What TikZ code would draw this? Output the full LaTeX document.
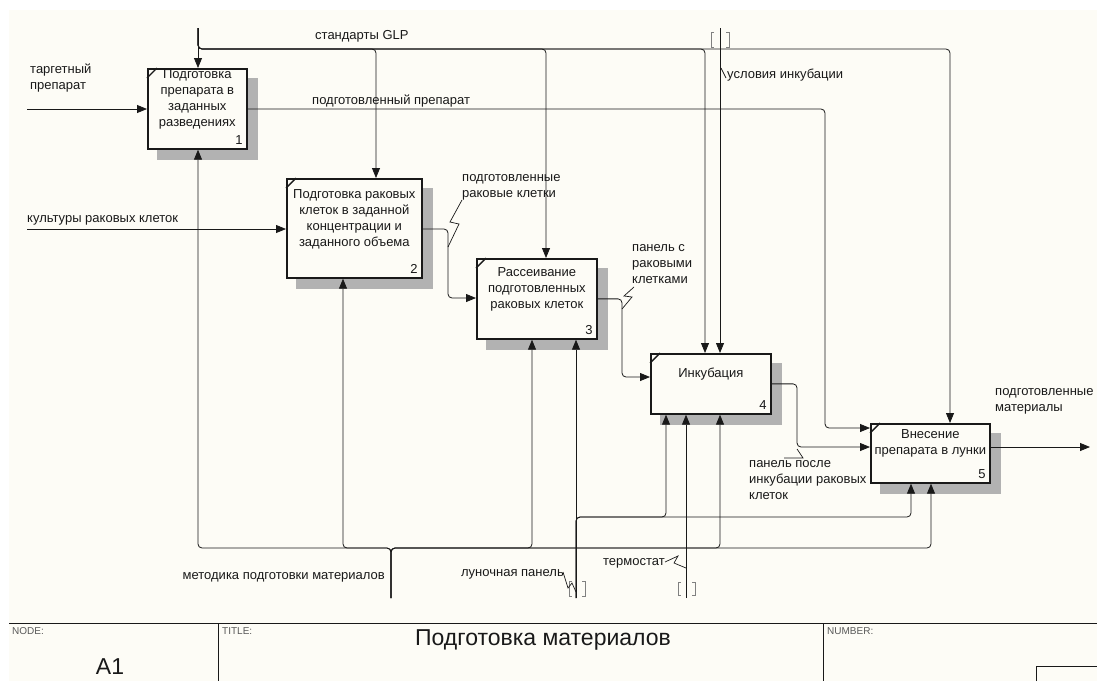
\documentclass[tikz,border=0pt]{standalone}
\usepackage{fontspec}
\setmainfont{Liberation Sans}
\usetikzlibrary{arrows.meta,positioning,backgrounds}

\definecolor{paper}{RGB}{253,252,246}
\definecolor{hatch}{RGB}{178,178,178}
\definecolor{ink}{RGB}{25,25,25}

\begin{document}
\begin{tikzpicture}[x=1pt,y=-1pt,>={Triangle[length=10pt,width=8pt]},
  every node/.style={inner sep=0pt,font=\fontsize{13}{16}\selectfont,text=ink},
  func/.style={rectangle,draw=ink,line width=1.7pt,fill=paper,anchor=north west},
  flow/.style={->,draw=ink,line width=0.8pt,rounded corners=4pt},
  lead/.style={draw=ink,line width=0.7pt},
  tunnel/.style={draw=gray,line width=0.9pt},
  lbl/.style={align=left,anchor=north west},
  frame/.style={draw=ink,line width=0.8pt},
  small/.style={font=\fontsize{10}{12}\selectfont,text=black!65,anchor=north west},
  big/.style={font=\fontsize{23}{26}\selectfont}]

  \useasboundingbox (0,0) rectangle (1097,681);

  \node[func,minimum width=99pt,minimum height=80pt] (1) at (147,68) {};
  \node[func,minimum width=135pt,minimum height=99pt] (2) at (286,178) {};
  \node[func,minimum width=120pt,minimum height=80pt] (3) at (476,258) {};
  \node[func,minimum width=120pt,minimum height=60pt] (4) at (650,353) {};
  \node[func,minimum width=119pt,minimum height=59pt] (5) at (870,423) {};

  \node[align=center] (1t) at ([yshift=9.5pt]1.center) {Подготовка\\препарата в\\заданных\\разведениях};
  \node[align=center] (2t) at ([yshift=9.5pt]2.center) {Подготовка раковых\\клеток в заданной\\концентрации и\\заданного объема};
  \node[align=center] (3t) at ([yshift=9.5pt]3.center) {Рассеивание\\подготовленных\\раковых клеток};
  \node[align=center] (4t) at ([yshift=9.5pt]4.center) {Инкубация};
  \node[align=center] (5t) at ([yshift=9.5pt]5.center) {Внесение\\препарата в лунки};

  \foreach \i in {1,...,5}{
    \node[above left=5pt and 5pt of \i.south east] (n\i) {\i};
    \draw[line width=1.4pt,ink] ([yshift=-10pt]\i.north west) -- ([xshift=10pt]\i.north west);
  }

  \begin{scope}[on background layer]
    \fill[white] (0,0) rectangle (1097,681);
    \fill[paper] (9,10) rectangle (1097,681);
    \foreach \i in {1,...,5}
      \fill[hatch] ([shift={(10pt,-10pt)}]\i.north west) rectangle ([shift={(10pt,-10pt)}]\i.south east);
  \end{scope}

  \coordinate (glp) at (198,28);
  \coordinate (g2) at (376,49);
  \coordinate (g3) at (546,49);
  \coordinate (g4) at (705,49);
  \coordinate (g5) at (950,49);
  \coordinate (usl) at (720,28);
  \coordinate (tgt) at (27,109);
  \coordinate (kul) at (27,229);
  \coordinate (p1) at (825,109);
  \coordinate (p5) at (825,428);
  \coordinate (k2) at (448,229);
  \coordinate (k3) at (448,298);
  \coordinate (c4) at (622,377);
  \coordinate (c5) at (797,447);
  \coordinate (res) at (1090,447);
  \coordinate (met) at (391,598);
  \coordinate (mj) at (391,548);
  \coordinate (m1) at (198,548);
  \coordinate (m2) at (343,548);
  \coordinate (m3) at (532,548);
  \coordinate (m4) at (720,548);
  \coordinate (m5) at (931,548);
  \coordinate (lun) at (576,598);
  \coordinate (l4) at (666,517);
  \coordinate (l5) at (911,517);
  \coordinate (trm) at (686,598);

  \draw[flow] (glp) -- (glp |- 1.north);
  \foreach \g/\i in {g2/2,g3/3,g4/4,g5/5}
    \draw[flow] (glp) |- (\g) -- (\g |- \i.north);
  \draw[flow] (usl) -- (usl |- 4.north);
  \draw[flow] (tgt) -- (tgt -| 1.west);
  \draw[flow] (kul) -- (kul -| 2.west);
  \draw[flow] (p1 -| 1.east) -- (p1) -- (p5) -- (p5 -| 5.west);
  \draw[flow] (k2 -| 2.east) -- (k2) -- (k3) -- (k3 -| 3.west);
  \draw[flow] (3.east) -| (c4) -- (c4 -| 4.west);
  \draw[flow] (4.east) -| (c5) -- (c5 -| 5.west);
  \draw[flow] (res -| 5.east) -- (res);
  \foreach \m/\i in {m1/1,m2/2,m3/3,m4/4,m5/5}
    \draw[flow] (met) -- (mj) -- (\m) -- (\m |- \i.south);
  \draw[flow] (lun) -- (lun |- 3.south);
  \foreach \l/\i in {l4/4,l5/5}
    \draw[flow] (lun) |- (\l) -- (\l |- \i.south);
  \draw[flow] (trm) -- (trm |- 4.south);

  \draw[tunnel] (714,32) -| (711,47) -- (714,47);
  \draw[tunnel] (726,32) -| (729,47) -- (726,47);
  \draw[tunnel] (572,581) -| (569,596) -- (572,596);
  \draw[tunnel] (582,581) -| (585,596) -- (582,596);
  \draw[tunnel] (681,582) -| (678,595) -- (681,595);
  \draw[tunnel] (692,582) -| (695,595) -- (692,595);

  \node[anchor=west] (lglp) at (315,36) {стандарты GLP};
  \node[anchor=west] (lusl) at (727,75) {условия инкубации};
  \node[anchor=west] (lprep) at (312,101) {подготовленный препарат};
  \node[lbl] (ltgt) at (30,64) {таргетный\\препарат};
  \node[anchor=west] (lkul) at (27,220) {культуры раковых клеток};
  \node[lbl] (lrk) at (462,174) {подготовленные\\раковые клетки};
  \node[lbl] (lpc) at (632,244) {панель с\\раковыми\\клетками};
  \node[lbl] (lpi) at (749,460) {панель после\\инкубации раковых\\клеток};
  \node[lbl] (lout) at (995,388) {подготовленные\\материалы};
  \node[anchor=east] (lmet) at (385,577) {методика подготовки материалов};
  \node[anchor=east] (llun) at (564,574) {луночная панель};
  \node[anchor=east] (ltrm) at (665,563) {термостат};

  \draw[lead] (721,68) -- (726,78);
  \draw[lead] (462,200) -- (450,222) -- (459,224) -- (448,247);
  \draw[lead] (634,287) -- (624,296) -- (632,297) -- (622,309);
  \draw[lead] (797,449) -- (803,458) -- (784,458);
  \draw[lead] (665,562) -- (678,556) -- (674,563) -- (686,568);
  \draw[lead] (563,572) -- (568,588) -- (572,583) -- (576,592);

  \draw[frame] (9,623) -- (1097,623);
  \draw[frame] (218,623) -- (218,681);
  \draw[frame] (823,623) -- (823,681);
  \draw[frame] (1036,681) |- (1097,666);
  \node[small] (tnode) at (12,627) {NODE:};
  \node[big] (ta1) at (110,667) {A1};
  \node[small] (ttitle) at (222,627) {TITLE:};
  \node[big] (tname) at (543,640) {Подготовка материалов};
  \node[small] (tnum) at (827,627) {NUMBER:};
\end{tikzpicture}
\end{document}
